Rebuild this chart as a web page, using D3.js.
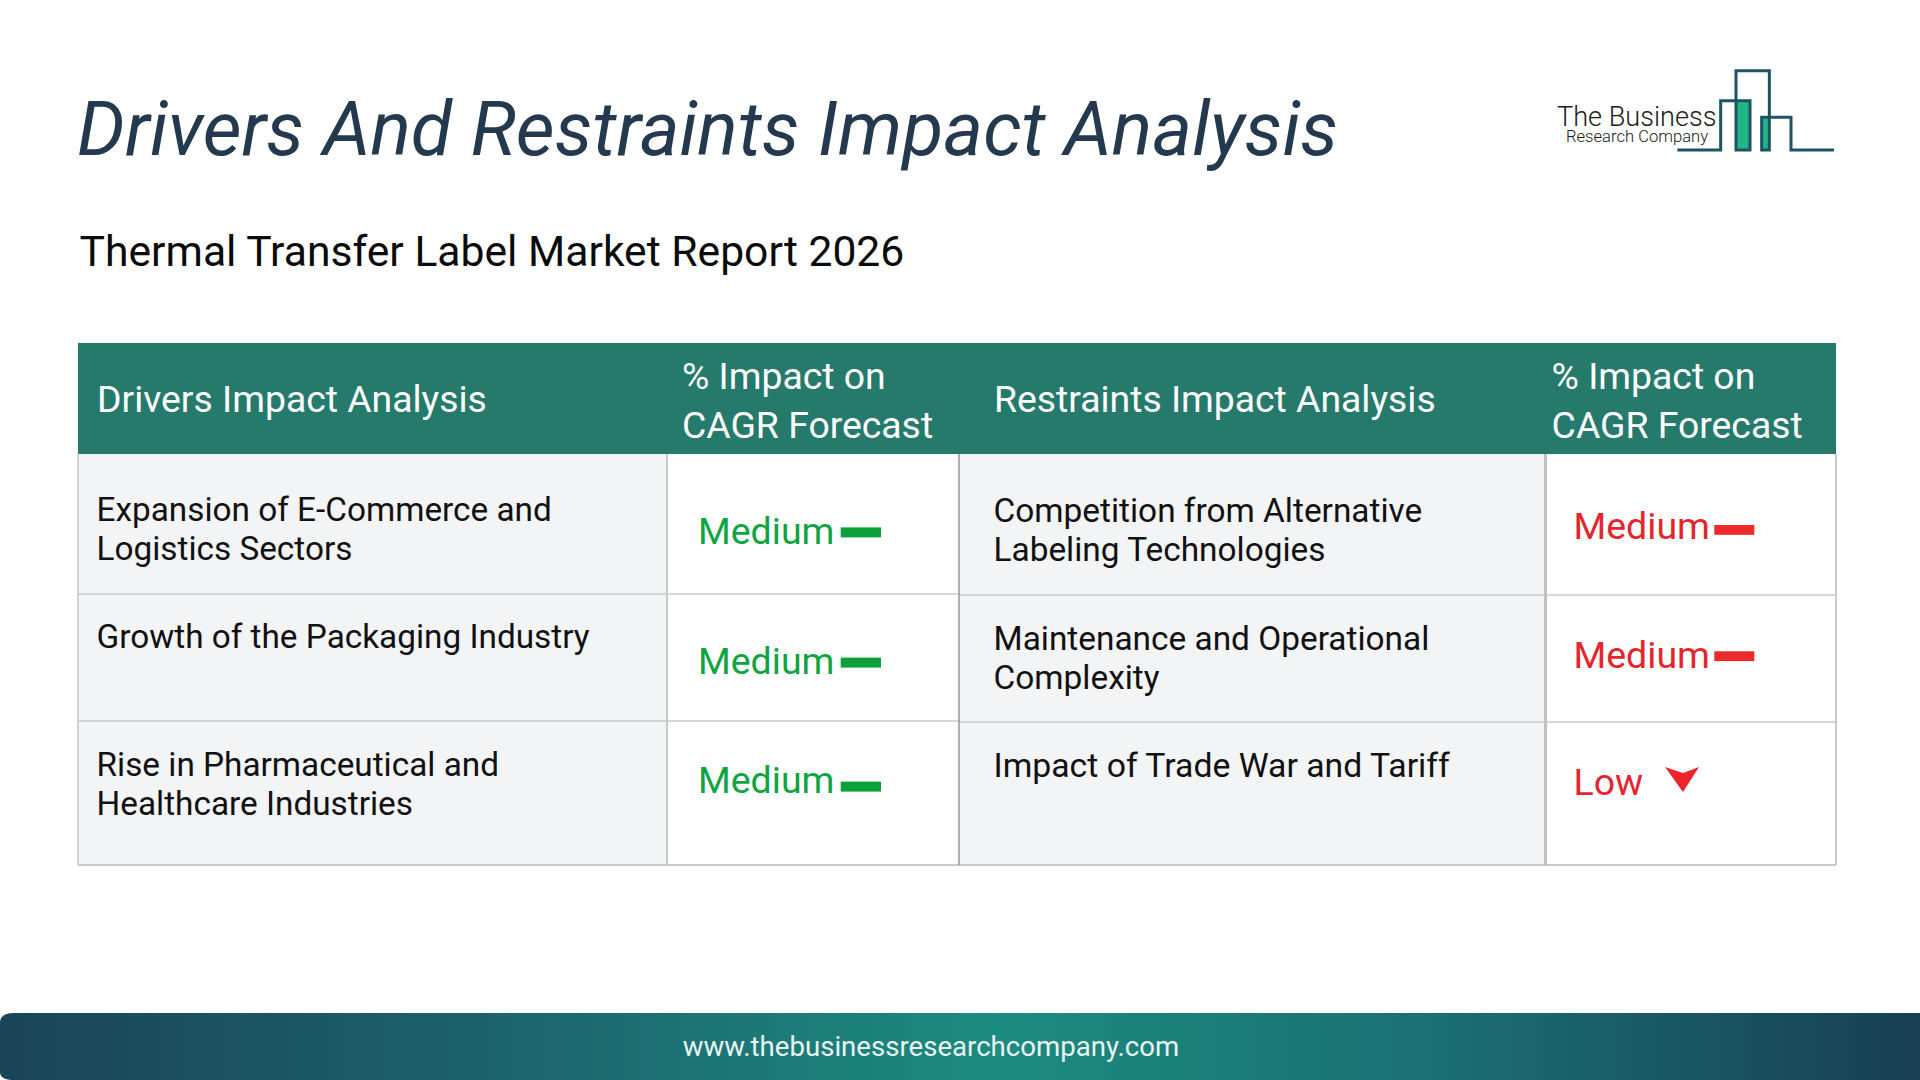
<!DOCTYPE html>
<html><head><meta charset="utf-8">
<style>html,body{margin:0;padding:0;background:#fff;overflow:hidden}svg{display:block}text{font-family:Roboto,sans-serif}</style>
<script src="https://cdn.jsdelivr.net/npm/d3@7"></script></head><body>
<svg id="c" width="1920" height="1080"></svg>
<script>
const title = "Drivers And Restraints Impact Analysis";
const subtitle = "Thermal Transfer Label Market Report 2026";
const headers = [["Drivers Impact Analysis"],["% Impact on","CAGR Forecast"],["Restraints Impact Analysis"],["% Impact on","CAGR Forecast"]];
const drivers = [["Expansion of E-Commerce and","Logistics Sectors"],["Growth of the Packaging Industry"],["Rise in Pharmaceutical and","Healthcare Industries"]];
const driverImpact = ["Medium","Medium","Medium"];
const restraints = [["Competition from Alternative","Labeling Technologies"],["Maintenance and Operational","Complexity"],["Impact of Trade War and Tariff"]];
const restraintImpact = ["Medium","Medium","Low"];
const footer = "www.thebusinessresearchcompany.com";

const svg = d3.select("#c");
const defs = svg.append("defs");
const g = defs.append("linearGradient").attr("id","fg");
[[0,"#1a4457"],[.25,"#1c626b"],[.52,"#1c8b80"],[.75,"#1a6f72"],[1,"#183f52"]].forEach(s=>g.append("stop").attr("offset",s[0]).attr("stop-color",s[1]));

svg.append("text").attr("x",77).attr("y",155).attr("font-size",75.5).attr("font-style","italic").attr("fill","#24384e").text(title);
svg.append("text").attr("x",79.5).attr("y",266).attr("font-size",42.65).attr("fill","#0b0b0b").text(subtitle);

// logo
const lx=d3.scaleLinear().domain([0,1200]).range([1500,1900]), ly=d3.scaleLinear().domain([0,420]).range([40,180]);
const P=a=>a.map(p=>[lx(p[0]),ly(p[1])]);
svg.append("rect").attr("x",lx(708)).attr("y",ly(182)).attr("width",lx(750)-lx(708)).attr("height",ly(330)-ly(182)).attr("fill","#22b585");
svg.append("rect").attr("x",lx(785)).attr("y",ly(232)).attr("width",lx(808)-lx(785)).attr("height",ly(330)-ly(232)).attr("fill","#22b585");
svg.append("path").attr("d",d3.line()(P([[532,330],[662,330],[662,182],[750,182],[750,330],[708,330],[708,92],[808,92],[808,330],[785,330],[785,232],[873,232],[873,330],[1002,330]]))).attr("fill","none").attr("stroke","#1c5561").attr("stroke-width",3);
svg.append("text").attr("x",1557).attr("y",126).attr("font-size",27.1).attr("font-family","Lato").attr("font-weight",300).attr("fill","#1a1a1a").text("The Business");
svg.append("text").attr("x",1566).attr("y",142).attr("font-size",16.6).attr("font-family","Lato").attr("font-weight",300).attr("fill","#1a1a1a").text("Research Company");

// table
const left=78,right=1836,top_=343,headB=454;
svg.append("rect").attr("x",left).attr("y",top_).attr("width",right-left).attr("height",headB-top_).attr("fill","#257a6b");
svg.append("rect").attr("x",78).attr("y",headB).attr("width",589).attr("height",865-headB).attr("fill","#f3f4f6");
svg.append("rect").attr("x",959).attr("y",headB).attr("width",586).attr("height",865-headB).attr("fill","#f3f4f6");
const line=(x1,y1,x2,y2,w,c)=>svg.append("line").attr("x1",x1).attr("y1",y1).attr("x2",x2).attr("y2",y2).attr("stroke",c||"#c8c9cc").attr("stroke-width",w||1.6);
line(78,594,959,594); line(959,595,1836,595); line(78,721,959,721); line(959,722,1836,722); line(78,865,1836,865,2);
line(78,454,78,865); line(667,454,667,865,2); line(959,454,959,865,1.3,"#85878c"); line(1545.5,454,1545.5,865,3,"#c0c1c5"); line(1836,454,1836,865,2);

// headers
const hdrX=[97,682,994,1552];
const hdrY=[[412],[389,438],[412],[389,438]];
headers.forEach((h,i)=>h.forEach((t,j)=>svg.append("text").attr("x",hdrX[i]-(i==3?0.4:0)).attr("y",hdrY[i][j]).attr("font-size",37.35).attr("fill","#fff").text(t)));

// body
const dY=[[521,560],[648],[776,815]], rY=[[522,561],[650,689],[777]];
drivers.forEach((d,i)=>d.forEach((t,j)=>svg.append("text").attr("x",96.5).attr("y",dY[i][j]).attr("font-size",33.35).attr("fill","#111").text(t)));
restraints.forEach((d,i)=>d.forEach((t,j)=>svg.append("text").attr("x",993.5).attr("y",rY[i][j]).attr("font-size",i==2?33.75:33.4).attr("fill","#111").text(t)));

const green="#0ca540",red="#e3262e";
const dImpY=[543.5,673.5,793],rImpY=[539,668,795];
const dBarY=[527.4,657.6,781.6],rBarY=[525,651.3];
driverImpact.forEach((t,i)=>{
  svg.append("text").attr("x",698).attr("y",dImpY[i]).attr("font-size",37.5).attr("fill",green).text(t);
  svg.append("rect").attr("x",840.7).attr("y",dBarY[i]).attr("width",40.3).attr("height",10).attr("fill","#0ca03a");
});
restraintImpact.forEach((t,i)=>{
  svg.append("text").attr("x",1573.5).attr("y",rImpY[i]).attr("font-size",37.5).attr("fill",red).text(t);
  if(t==="Medium") svg.append("rect").attr("x",1714.3).attr("y",rBarY[i]).attr("width",40).attr("height",9.8).attr("fill","#ee2b2b");
  else svg.append("path").attr("d",d3.line()([[1665,767],[1683,773],[1699,767],[1683,792]])+"Z").attr("fill","#ee2429");
});

// footer
svg.append("path").attr("d","M0,1023 Q0,1013 14,1013 L1920,1013 L1920,1080 L14,1080 Q0,1080 0,1072 Z").attr("fill","url(#fg)");
svg.append("text").attr("x",931).attr("y",1056).attr("text-anchor","middle").attr("font-size",27.6).attr("fill","#e9f4f2").text(footer);
</script></body></html>
